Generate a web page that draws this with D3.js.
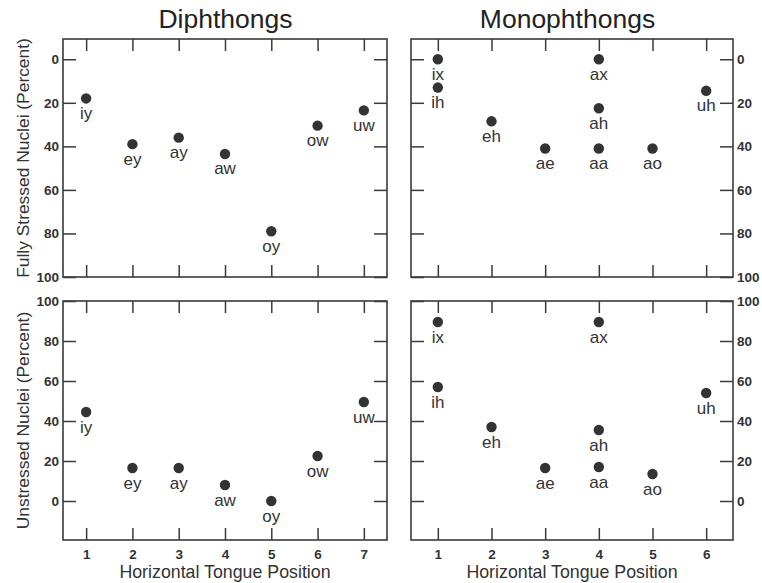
<!DOCTYPE html>
<html>
<head>
<meta charset="utf-8">
<script src="https://cdn.jsdelivr.net/npm/d3@7"></script>
<style>
  html, body { margin: 0; padding: 0; background: #fff; }
  svg { display: block; }
  text { font-family: "Liberation Sans", Arial, sans-serif; fill: #333; }
</style>
</head>
<body>
<svg id="chart" width="762" height="583"></svg>
<script>
// ---- Data ----
const diphLabels = ["iy", "ey", "ay", "aw", "oy", "ow", "uw"];
const diphPos = [1, 2, 3, 4, 5, 6, 7];
const diphStressed = [18, 39, 36, 43.5, 79, 30.5, 23.5];
const diphUnstressed = [44.5, 16.5, 16.5, 8, 0, 22.5, 49.5];

const monoLabels = ["ix", "ih", "eh", "ae", "ax", "ah", "aa", "ao", "uh"];
const monoPos = [1, 1, 2, 3, 4, 4, 4, 5, 6];
const monoStressed = [0, 13, 28.5, 41, 0, 22.5, 41, 41, 14.5];
const monoUnstressed = [89.5, 57, 37, 16.5, 89.5, 35.5, 17, 13.5, 54];

const yTicks = [0, 20, 40, 60, 80, 100];
const diphXTicks = [1, 2, 3, 4, 5, 6, 7];
const monoXTicks = [1, 2, 3, 4, 5, 6];

const titles = ["Diphthongs", "Monophthongs"];
const yTitles = ["Fully Stressed Nuclei (Percent)", "Unstressed Nuclei (Percent)"];
const xTitle = "Horizontal Tongue Position";

// ---- Layout ----
const svg = d3.select("#chart");
const ink = "#3a3a3a";
const colX = [[63, 387], [411, 733]];
const rowY = [[39, 277], [301, 540]];

const xScales = [
  d3.scaleLinear().domain([0.5, 7.5]).range(colX[0]),
  d3.scaleLinear().domain([0.5, 6.5]).range(colX[1])
];
const yScales = [
  d3.scaleLinear().domain([-9.3, 100]).range(rowY[0]),   // 0 at top (reversed)
  d3.scaleLinear().domain([-19.5, 100]).range([rowY[1][1], rowY[1][0]])
];

const panels = [
  { col: 0, row: 0, pos: diphPos, vals: diphStressed, labels: diphLabels, xt: diphXTicks },
  { col: 1, row: 0, pos: monoPos, vals: monoStressed, labels: monoLabels, xt: monoXTicks },
  { col: 0, row: 1, pos: diphPos, vals: diphUnstressed, labels: diphLabels, xt: diphXTicks },
  { col: 1, row: 1, pos: monoPos, vals: monoUnstressed, labels: monoLabels, xt: monoXTicks }
];

function styleAxis(g, showLabels) {
  g.select(".domain").remove();
  g.selectAll(".tick line").attr("stroke", ink).attr("stroke-width", 1.5);
  g.selectAll(".tick text")
    .attr("fill", ink)
    .style("font-family", "'Liberation Sans', Arial, sans-serif")
    .style("font-weight", "bold")
    .style("font-size", "13.5px");
  if (!showLabels) g.selectAll(".tick text").remove();
}

panels.forEach(p => {
  const x = xScales[p.col], y = yScales[p.row];
  const [x0, x1] = colX[p.col];
  const [y0, y1] = rowY[p.row];
  const g = svg.append("g");

  // axes with inward ticks
  g.append("g").attr("transform", `translate(0,${y1})`)
    .call(d3.axisBottom(x).tickValues(p.xt).tickSize(-12).tickPadding(9).tickFormat(d3.format("d")))
    .call(a => styleAxis(a, p.row === 1));
  g.append("g").attr("transform", `translate(0,${y0})`)
    .call(d3.axisTop(x).tickValues(p.xt).tickSize(-12))
    .call(a => styleAxis(a, false));
  g.append("g").attr("transform", `translate(${x0},0)`)
    .call(d3.axisLeft(y).tickValues(yTicks).tickSize(-13).tickPadding(4).tickFormat(d3.format("d")))
    .call(a => styleAxis(a, p.col === 0));
  g.append("g").attr("transform", `translate(${x1},0)`)
    .call(d3.axisRight(y).tickValues(yTicks).tickSize(-13).tickPadding(4).tickFormat(d3.format("d")))
    .call(a => styleAxis(a, p.col === 1));

  // frame
  g.append("rect")
    .attr("x", x0).attr("y", y0)
    .attr("width", x1 - x0).attr("height", y1 - y0)
    .attr("fill", "none").attr("stroke", ink).attr("stroke-width", 1.6);

  // points
  const data = p.pos.map((d, i) => ({ x: d, v: p.vals[i], l: p.labels[i] }));
  g.selectAll("circle.pt").data(data).enter().append("circle")
    .attr("class", "pt")
    .attr("cx", d => x(d.x)).attr("cy", d => y(d.v))
    .attr("r", 5.2).attr("fill", "#333");
  g.selectAll("text.pl").data(data).enter().append("text")
    .attr("class", "pl")
    .attr("x", d => x(d.x)).attr("y", d => y(d.v) + 20.5)
    .attr("text-anchor", "middle")
    .style("font-size", "17px")
    .text(d => d.l);
});

// titles
titles.forEach((t, i) => {
  svg.append("text")
    .attr("x", i === 0 ? 225.5 : 567.5).attr("y", 27.5)
    .attr("text-anchor", "middle")
    .style("font-size", "26.5px").style("fill", "#222")
    .text(t);
});

// y titles
yTitles.forEach((t, i) => {
  const cy = (rowY[i][0] + rowY[i][1]) / 2;
  svg.append("text")
    .attr("transform", `translate(29,${cy}) rotate(-90)`)
    .attr("text-anchor", "middle")
    .style("font-size", "17.4px")
    .text(t);
});

// x titles
[0, 1].forEach(c => {
  svg.append("text")
    .attr("x", (colX[c][0] + colX[c][1]) / 2).attr("y", 578)
    .attr("text-anchor", "middle")
    .style("font-size", "17.8px")
    .text(xTitle);
});
</script>
</body>
</html>
